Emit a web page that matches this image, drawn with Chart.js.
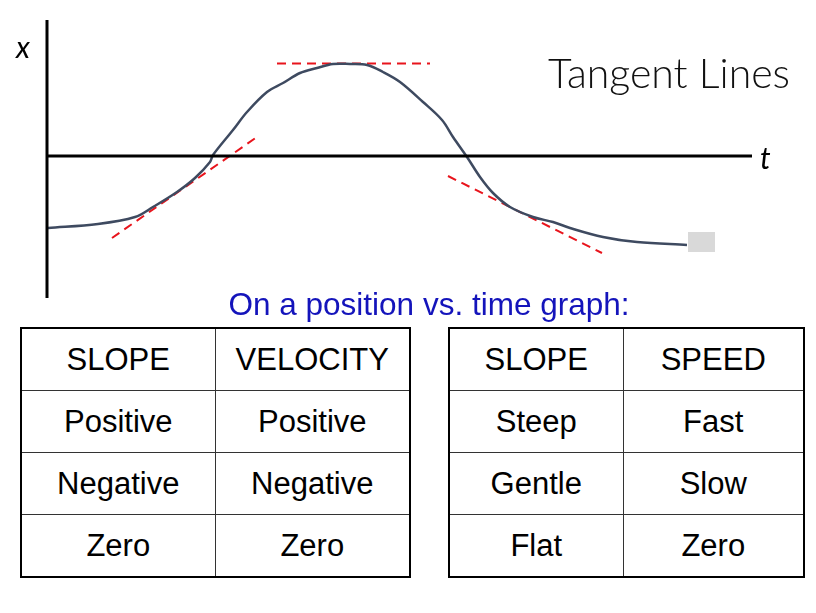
<!DOCTYPE html>
<html>
<head>
<meta charset="utf-8">
<script src="https://cdn.jsdelivr.net/npm/chart.js@4.4.0/dist/chart.umd.min.js"></script>
<style>
    html, body { margin: 0; padding: 0; background: #fff; }
    #page { position: relative; width: 816px; height: 613px; overflow: hidden; }
    #graph { position: absolute; left: 0; top: 0; }
    .label { position: absolute; line-height: 1; white-space: nowrap; }
    #xLabel { left: 16px; top: 28px; font: italic 30px Lato, "Open Sans", sans-serif; }
    #tLabel { left: 760px; top: 139px; font: italic 30px Lato, "Open Sans", sans-serif; }
    #title { left: 548px; top: 48px; font: 300 41px Lato, "Open Sans", sans-serif; color: #111; }
    #subtitle { left: 0; width: 858px; text-align: center; top: 286px; font: 31.5px "Liberation Sans", Arial, sans-serif; color: #1414bb; }
    table { position: absolute; top: 327px; border-collapse: collapse; border: 2px solid #000;
            font: 31px "Liberation Sans", Arial, sans-serif; color: #000; table-layout: fixed; }
    td { border: 1px solid #333; height: 61px; padding: 0; text-align: center; vertical-align: middle; }
    #velocityTable { left: 20px; width: 389px; }
    #speedTable { left: 448px; width: 355px; }
</style>
</head>
<body>
<div id="page">
    <canvas id="graph" width="816" height="300"></canvas>
    <div class="label" id="xLabel">x</div>
    <div class="label" id="tLabel">t</div>
    <div class="label" id="title">Tangent Lines</div>
    <div class="label" id="subtitle">On a position vs. time graph:</div>
    <table id="velocityTable"></table>
    <table id="speedTable"></table>
</div>
<script>
// Curva de posición (t, x)
const curveT = [0.1, 5.1, 8.8, 10.6, 13.0, 14.8, 16.3, 16.6, 18.6, 20.0, 22.0, 23.6, 25.3, 27.0, 28.6, 30.3,
                32.0, 33.6, 35.3, 37.6, 39.5, 40.6, 42.0, 43.3, 44.6, 46.3, 48.6, 50.6, 52.3, 55.6, 59.0, 64.0];
const curveX = [-7.2, -6.8, -6.1, -5.1, -3.6, -2.2, -0.6, 0.1, 2.6, 4.4, 6.4, 7.3, 8.3, 8.8, 9.2, 9.2,
                9.1, 8.4, 7.4, 5.4, 3.6, 1.9, -0.1, -2.1, -3.7, -5.1, -6.1, -6.6, -7.2, -8.1, -8.6, -8.9];

// Rectas tangentes
const tangentRiseT = [6.5, 21.0];
const tangentRiseX = [-8.2, 1.9];
const tangentTopT = [23.0, 38.3];
const tangentTopX = [9.25, 9.25];
const tangentFallT = [40.1, 55.5];
const tangentFallX = [-2.0, -9.7];

// Ejes
const axisTEnd = 70.5;
const axisXRange = [-14.2, 13.6];

// Marcador gris al final
const markerT = [65.45];
const markerX = [-8.6];

// Tablas
const velocityRows = [
    ['SLOPE', 'VELOCITY'],
    ['Positive', 'Positive'],
    ['Negative', 'Negative'],
    ['Zero', 'Zero']
];
const speedRows = [
    ['SLOPE', 'SPEED'],
    ['Steep', 'Fast'],
    ['Gentle', 'Slow'],
    ['Flat', 'Zero']
];

function toPoints(ts, xs) {
    return ts.map((t, i) => ({ x: t, y: xs[i] }));
}

function fillTable(id, rows, widths) {
    const table = document.getElementById(id);
    const cols = document.createElement('colgroup');
    widths.forEach(w => {
        const c = document.createElement('col');
        c.style.width = w + 'px';
        cols.appendChild(c);
    });
    table.appendChild(cols);
    rows.forEach(r => {
        const tr = document.createElement('tr');
        r.forEach(txt => {
            const td = document.createElement('td');
            td.textContent = txt;
            tr.appendChild(td);
        });
        table.appendChild(tr);
    });
}

fillTable('velocityTable', velocityRows, [194, 195]);
fillTable('speedTable', speedRows, [174, 181]);

// Marcador rectangular
const markerImg = document.createElement('canvas');
markerImg.width = 27;
markerImg.height = 20;
const mctx = markerImg.getContext('2d');
mctx.fillStyle = '#d9d9d9';
mctx.fillRect(0, 0, 27, 20);

const dashed = {
    borderColor: '#e8141c',
    borderWidth: 2,
    borderDash: [9, 6],
    pointRadius: 0,
    tension: 0
};

new Chart(document.getElementById('graph').getContext('2d'), {
    type: 'line',
    data: {
        datasets: [
            {
                label: 'eje t',
                data: toPoints([0, axisTEnd], [0, 0]),
                borderColor: '#000',
                borderWidth: 3,
                pointRadius: 0
            },
            {
                label: 'eje x',
                data: toPoints([0, 0], axisXRange),
                borderColor: '#000',
                borderWidth: 3,
                pointRadius: 0
            },
            {
                label: 'posición',
                data: toPoints(curveT, curveX),
                borderColor: '#3e4a60',
                borderWidth: 2.5,
                pointRadius: 0,
                tension: 0.35
            },
            Object.assign({ label: 'tangente positiva', data: toPoints(tangentRiseT, tangentRiseX) }, dashed),
            Object.assign({ label: 'tangente cero', data: toPoints(tangentTopT, tangentTopX) }, dashed),
            Object.assign({ label: 'tangente negativa', data: toPoints(tangentFallT, tangentFallX) }, dashed),
            {
                label: 'marcador',
                data: toPoints(markerT, markerX),
                showLine: false,
                pointStyle: markerImg,
                pointRadius: 14
            }
        ]
    },
    options: {
        responsive: false,
        animation: false,
        layout: { padding: 0, autoPadding: false },
        plugins: {
            legend: { display: false },
            tooltip: { enabled: false }
        },
        scales: {
            x: { type: 'linear', min: -4.7, max: 76.9, display: false },
            y: { type: 'linear', min: -14.4, max: 15.6, display: false }
        }
    }
});
</script>
</body>
</html>
